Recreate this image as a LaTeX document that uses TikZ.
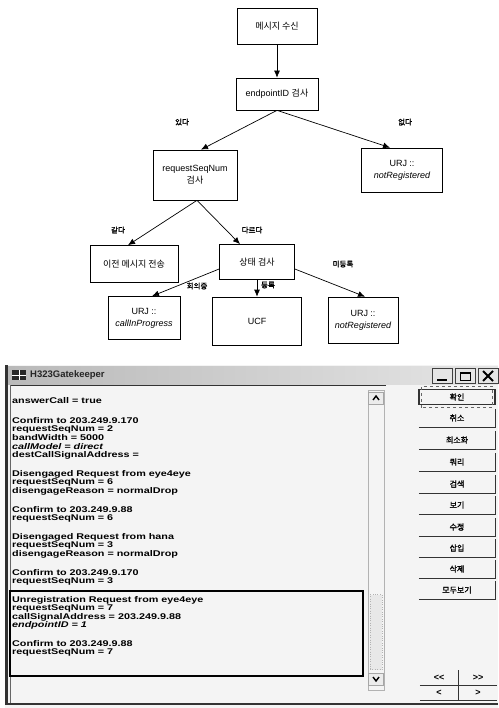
\documentclass[tikz,border=0pt]{standalone}
\usepackage{fontspec}
\setmainfont{Liberation Sans}
\newfontfamily\kr[AutoFakeBold=1.5]{Noto Sans CJK KR}
\newfontfamily\scr[FakeStretch=1.3]{Liberation Sans}
\usetikzlibrary{arrows.meta}
\begin{document}
\begin{tikzpicture}[x=1pt,y=-1pt,
  box/.style={draw,line width=0.7pt,align=center,inner sep=1pt,font=\fontsize{9}{11}\selectfont},
  arr/.style={-{Latex[length=7pt,width=6pt]},line width=0.7pt},
  lab/.style={font=\kr\bfseries\fontsize{7.5}{8}\selectfont,inner sep=0pt},
  scrline/.style={anchor=west,inner sep=0pt,font=\scr\bfseries\fontsize{8.3}{8.3}\selectfont},
  btn/.style={inner sep=0pt,font=\kr\bfseries\fontsize{8}{9}\selectfont},
  nav/.style={inner sep=0pt,font=\bfseries\fontsize{9}{9}\selectfont}]
\useasboundingbox (0,0) rectangle (498,708);
\fill[white] (0,0) rectangle (498,708);
% ---------------- flowchart ----------------
\node[box,minimum width=80pt,minimum height=36pt] (m1) at (277,26) {\kr 메시지 수신};
\node[box,minimum width=82pt,minimum height=32pt] (m2) at (277,94) {endpointID {\kr 검사}};
\node[box,minimum width=84pt,minimum height=50pt] (rs) at (195,175) {requestSeqNum\\[1pt]{\kr 검사}};
\node[box,minimum width=81pt,minimum height=44pt] (u1) at (402,170) {URJ ::\\[1pt]\itshape notRegistered};
\node[box,minimum width=88pt,minimum height=37pt] (pv) at (134,264) {\kr 이전 메시지 전송};
\node[box,minimum width=75pt,minimum height=35pt] (st) at (257,262) {\kr 상태 검사};
\node[box,minimum width=72pt,minimum height=43pt] (b1) at (144,318) {URJ ::\\[1pt]\itshape callInProgress};
\node[box,minimum width=89pt,minimum height=48pt] (b2) at (257,321) {UCF};
\node[box,minimum width=70pt,minimum height=46pt] (b3) at (363,320) {URJ ::\\[1pt]\itshape notRegistered};

\draw[arr] (m1) -- (m2);
\draw[arr] (m2.south) -- ([xshift=6pt]rs.north);
\draw[arr] (m2.south) -- ([xshift=-12pt]u1.north);
\draw[arr] ([xshift=2pt]rs.south) -- ([xshift=-6pt]pv.north);
\draw[arr] ([xshift=2pt]rs.south) -- ([xshift=-17pt]st.north);
\draw[arr] ([yshift=-7pt]st.west) -- ([xshift=8pt]b1.north);
\draw[arr] (st.south) -- (b2.north);
\draw[arr] ([yshift=-7pt]st.east) -- ([xshift=2pt]b3.north);

\node[lab] (l1) at (182,122) {있다};
\node[lab] (l2) at (405,122) {없다};
\node[lab] (l3) at (118,230) {같다};
\node[lab] (l4) at (252,230) {다르다};
\node[lab] (l5) at (197,286) {회의중};
\node[lab] (l6) at (268,285) {등록};
\node[lab] (l7) at (343,264) {미등록};

% ---------------- window ----------------
\fill[gray!9] (5,365) rectangle (498,708);
\shade[left color=gray!55,right color=gray!20] (8,366) rectangle (498,384);
\node[fill=black!85,minimum width=14pt,minimum height=10pt,inner sep=0pt] (icon) at (19,375) {};
\draw[white,line width=0.8pt] (icon.north) -- (icon.south) (icon.west) -- (icon.east);
\node[anchor=west,inner sep=0pt,font=\bfseries\fontsize{9.5}{10}\selectfont,text=black!85] (title) at (30,375) {H323Gatekeeper};
% title buttons
\node[draw=black!75,fill=gray!20,line width=1pt,minimum width=20pt,minimum height=15pt,inner sep=0pt] (bmin) at (442,376) {};
\draw[line width=1.5pt] ([xshift=-5pt,yshift=-4pt]bmin.center) -- ([xshift=5pt,yshift=-4pt]bmin.center);
\node[draw=black!75,fill=gray!20,line width=1pt,minimum width=20pt,minimum height=15pt,inner sep=0pt] (bmax) at (465,376) {};
\draw[line width=1pt] ([xshift=-5pt,yshift=-4pt]bmax.center) rectangle ([xshift=5pt,yshift=4pt]bmax.center);
\draw[line width=2pt] ([xshift=-5pt,yshift=3pt]bmax.center) -- ([xshift=5pt,yshift=3pt]bmax.center);
\node[draw=black!75,fill=gray!20,line width=1pt,minimum width=20pt,minimum height=15pt,inner sep=0pt] (bcl) at (488,376) {};
\draw[line width=1.8pt] ([xshift=-5pt,yshift=-5pt]bcl.center) -- ([xshift=5pt,yshift=5pt]bcl.center)
  ([xshift=-5pt,yshift=5pt]bcl.center) -- ([xshift=5pt,yshift=-5pt]bcl.center);
% frame lines
\draw[black!80,line width=3pt] (6.5,365) -- (6.5,705);
\draw[black!80,line width=0.8pt] (10,385) -- (386,385);
\draw[black!60,line width=0.6pt] (10,385) -- (10,703);
\draw[black!80,line width=1.4pt] (5,704) -- (498,704);
% scrollbar
\draw[gray!60,line width=0.5pt] (368,390) rectangle (384,690);
\node[draw=gray!70,fill=gray!15,minimum width=15pt,minimum height=12pt,inner sep=0pt] (sup) at (376,398) {};
\draw[line width=1.4pt] ([xshift=-3pt,yshift=-2pt]sup.center) -- ([yshift=2pt]sup.center) -- ([xshift=3pt,yshift=-2pt]sup.center);
\node[draw=gray!60,dotted,fill=gray!18,minimum width=12pt,minimum height=75pt,inner sep=0pt] (thumb) at (376,632) {};
\node[draw=gray!70,fill=gray!15,minimum width=15pt,minimum height=12pt,inner sep=0pt] (sdn) at (376,679) {};
\draw[line width=1.4pt] ([xshift=-3pt,yshift=2pt]sdn.center) -- ([yshift=-2pt]sdn.center) -- ([xshift=3pt,yshift=2pt]sdn.center);
% text lines
\foreach \yy/\tt [count=\i] in {
  401/answerCall = true,
  421/Confirm to 203.249.9.170,
  429.5/requestSeqNum = 2,
  438/bandWidth = 5000,
  446.5/{\itshape callModel = direct},
  455/destCallSignalAddress =,
  474/Disengaged Request from eye4eye,
  482.5/requestSeqNum = 6,
  491/disengageReason = normalDrop,
  510/Confirm to 203.249.9.88,
  518.5/requestSeqNum = 6,
  537/Disengaged Request from hana,
  545.5/requestSeqNum = 3,
  554/disengageReason = normalDrop,
  573/Confirm to 203.249.9.170,
  581.5/requestSeqNum = 3,
  600/Unregistration Request from eye4eye,
  608.5/requestSeqNum = 7,
  617/callSignalAddress = 203.249.9.88,
  625.5/{\itshape endpointID = 1},
  644/Confirm to 203.249.9.88,
  652.5/requestSeqNum = 7}
  \node[scrline] (t\i) at (12,\yy) {\tt};
% selection rectangle
\draw[line width=1.6pt] (10,591) rectangle (363,676);
% right buttons
\foreach \yy/\tt [count=\i] in {418/취소,440/최소화,462/쿼리,484/검색,505/보기,527/수정,548/삽입,569/삭제,590/모두보기}{
  \node[btn,minimum width=76pt,minimum height=18pt] (rb\i) at (457,\yy) {\tt};
  \draw[black!80,line width=1pt] (rb\i.south west) -- (rb\i.south east) -- (rb\i.north east);
}
\node[btn,draw=black!80,line width=1.2pt,minimum width=76pt,minimum height=15pt] (ok) at (457,397) {확인};
\draw[black!60,dashed,line width=0.4pt] ([shift={(3pt,-2.5pt)}]ok.south west) rectangle ([shift={(-3pt,2.5pt)}]ok.north east);
% nav buttons
\node[nav,minimum width=38pt,minimum height=15pt] (nb1) at (439,678) {<{}<};
\node[nav,minimum width=38pt,minimum height=15pt] (nb2) at (478,678) {>{}>};
\node[nav,minimum width=38pt,minimum height=15pt] (nb3) at (439,693) {<};
\node[nav,minimum width=38pt,minimum height=15pt] (nb4) at (478,693) {>};
\draw[black!80,line width=0.9pt] (nb1.north east) -- (nb3.south east);
\draw[black!80,line width=0.9pt] (nb3.north west) -- (nb4.north east);
\draw[black!80,line width=0.9pt] (nb3.south west) -- (nb4.south east);
\end{tikzpicture}
\end{document}
